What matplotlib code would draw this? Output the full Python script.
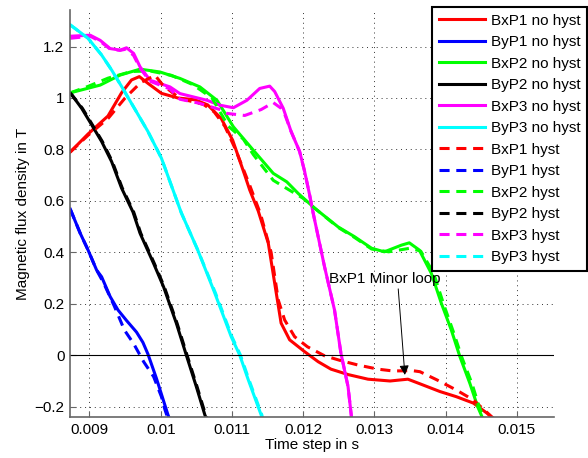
import matplotlib
matplotlib.use('Agg')
import matplotlib.pyplot as plt
from matplotlib.ticker import FuncFormatter

plt.rcParams['font.family'] = ['Liberation Sans', 'DejaVu Sans']
plt.rcParams['font.size'] = 11

# values (time in s, flux density in T)
t_bxp1 = [0.00873, 0.00898, 0.00926, 0.00945, 0.00959, 0.00970, 0.00982, 0.01001, 0.01024, 0.01048,
          0.01066, 0.01085, 0.01101, 0.01118, 0.01125, 0.01137, 0.01151, 0.01160, 0.01169, 0.01181,
          0.01202, 0.01221, 0.01239, 0.01263, 0.01291, 0.01322, 0.01347, 0.01364, 0.01392, 0.01415,
          0.01439, 0.01458, 0.01466]
b_bxp1 = [0.79, 0.86, 0.93, 1.02, 1.07, 1.083, 1.057, 1.018, 1.0, 0.993,
          0.973, 0.92, 0.836, 0.70, 0.642, 0.56, 0.436, 0.28, 0.125, 0.06,
          0.014, -0.025, -0.054, -0.075, -0.093, -0.10, -0.093, -0.111, -0.141, -0.161,
          -0.186, -0.225, -0.245]

t_bxp1_h = [0.00873, 0.00898, 0.00926, 0.00950, 0.00972, 0.00992, 0.01003, 0.01027, 0.01060, 0.01075,
            0.01090, 0.01105, 0.01125, 0.01140, 0.01155, 0.01165, 0.01174, 0.01188, 0.01206, 0.01230,
            0.01253, 0.01277, 0.01305, 0.01326, 0.01354, 0.01364, 0.01388, 0.01415, 0.01439, 0.01467]
b_bxp1_h = [0.79, 0.855, 0.92, 1.0, 1.06, 1.088, 1.05, 0.998, 0.975, 0.946,
            0.89, 0.80, 0.66, 0.55, 0.40, 0.215, 0.137, 0.072, 0.033, -0.002,
            -0.021, -0.038, -0.054, -0.061, -0.060, -0.064, -0.096, -0.135, -0.174, -0.245]

t_byp1 = [0.00873, 0.00887, 0.00898, 0.00910, 0.00917, 0.00929, 0.00940, 0.00952, 0.00966, 0.00975,
          0.00982, 0.00994, 0.01010, 0.01012]
b_byp1 = [0.568, 0.474, 0.409, 0.331, 0.305, 0.228, 0.176, 0.135, 0.09, 0.05,
          0.005, -0.09, -0.23, -0.245]

t_byp1_h = [0.00873, 0.00887, 0.00898, 0.00910, 0.00920, 0.00935, 0.00949, 0.00962, 0.00976, 0.00990,
            0.01001, 0.01006, 0.01010]
b_byp1_h = [0.568, 0.474, 0.409, 0.331, 0.28, 0.19, 0.098, 0.045, -0.025, -0.083,
            -0.161, -0.212, -0.245]

t_bxp2 = [0.00873, 0.00915, 0.00943, 0.00971, 0.00999, 0.01027, 0.01055, 0.01079, 0.01102, 0.01130,
          0.01158, 0.01177, 0.01193, 0.01216, 0.01249, 0.01272, 0.01296, 0.01314, 0.01338, 0.01349,
          0.01363, 0.01380, 0.01394, 0.01408, 0.01420, 0.01434, 0.01445, 0.01452]
b_bxp2 = [1.02, 1.05, 1.089, 1.112, 1.101, 1.076, 1.043, 0.991, 0.888, 0.797,
          0.707, 0.674, 0.629, 0.572, 0.499, 0.461, 0.416, 0.402, 0.428, 0.437,
          0.409, 0.318, 0.202, 0.098, -0.005, -0.109, -0.20, -0.245]

t_bxp2_h = [0.00873, 0.00898, 0.00926, 0.00959, 0.00985, 0.01015, 0.01045, 0.01072, 0.01095, 0.01116,
            0.01130, 0.01158, 0.01180, 0.01200, 0.01216, 0.01249, 0.01272, 0.01296, 0.01320, 0.01350,
            0.01365, 0.01383, 0.01397, 0.01411, 0.01423, 0.01437, 0.01447, 0.01454]
b_bxp2_h = [1.02, 1.045, 1.077, 1.103, 1.105, 1.088, 1.052, 1.0, 0.89, 0.84,
            0.78, 0.68, 0.643, 0.61, 0.572, 0.497, 0.458, 0.413, 0.402, 0.416,
            0.405, 0.32, 0.2, 0.09, -0.01, -0.11, -0.2, -0.245]

t_byp2 = [0.00873, 0.00889, 0.00903, 0.00917, 0.00931, 0.00945, 0.00961, 0.00971, 0.00990, 0.01004,
          0.01022, 0.01036, 0.01050, 0.01062, 0.01064]
b_byp2 = [1.02, 0.96, 0.896, 0.831, 0.753, 0.65, 0.557, 0.474, 0.357, 0.266,
          0.124, 0.0, -0.122, -0.232, -0.245]

t_byp2_h = [0.00873, 0.00890, 0.00904, 0.00918, 0.00932, 0.00946, 0.00962, 0.00972, 0.00991, 0.01005,
            0.01023, 0.01037, 0.01051, 0.01063, 0.01065]
b_byp2_h = [1.02, 0.96, 0.896, 0.831, 0.753, 0.65, 0.557, 0.474, 0.357, 0.266,
            0.124, 0.0, -0.122, -0.232, -0.245]

t_bxp3 = [0.00873, 0.00901, 0.00915, 0.00929, 0.00943, 0.00952, 0.00962, 0.00971, 0.00985, 0.00999,
          0.01013, 0.01027, 0.01046, 0.01065, 0.01083, 0.01102, 0.01121, 0.01139, 0.01153, 0.01160,
          0.01172, 0.01183, 0.01195, 0.01202, 0.01209, 0.01214, 0.01230, 0.01244, 0.01253, 0.01263,
          0.01268]
b_bxp3 = [1.24, 1.244, 1.224, 1.192, 1.186, 1.195, 1.173, 1.121, 1.069, 1.056,
          1.043, 1.017, 1.004, 0.991, 0.972, 0.962, 0.991, 1.037, 1.046, 1.025,
          0.96, 0.87, 0.792, 0.715, 0.624, 0.553, 0.344, 0.176, 0.008, -0.122,
          -0.245]

t_bxp3_h = [0.00873, 0.00901, 0.00915, 0.00929, 0.00943, 0.00952, 0.00962, 0.00971, 0.00985, 0.00999,
            0.01013, 0.01027, 0.01055, 0.01083, 0.01093, 0.01118, 0.01141, 0.01158, 0.01169, 0.01175,
            0.01183, 0.01195, 0.01202, 0.01209, 0.01214, 0.01230, 0.01244, 0.01253, 0.01263, 0.01268]
b_bxp3_h = [1.232, 1.24, 1.22, 1.19, 1.185, 1.19, 1.165, 1.115, 1.065, 1.05,
            1.035, 0.995, 0.979, 0.955, 0.94, 0.932, 0.955, 0.982, 0.96, 0.93,
            0.87, 0.792, 0.715, 0.624, 0.553, 0.344, 0.176, 0.008, -0.122, -0.245]

t_byp3 = [0.00873, 0.00898, 0.00917, 0.00931, 0.00945, 0.00963, 0.00982, 0.01001, 0.01029, 0.01052,
          0.01076, 0.01099, 0.01111, 0.01123, 0.01141, 0.01142]
b_byp3 = [1.284, 1.232, 1.167, 1.109, 1.045, 0.96, 0.87, 0.766, 0.553, 0.409,
          0.241, 0.072, 0.0, -0.096, -0.232, -0.245]

t_byp3_h = [0.00873, 0.00898, 0.00917, 0.00931, 0.00945, 0.00963, 0.00982, 0.01001, 0.01029, 0.01052,
            0.01077, 0.01100, 0.01112, 0.01124, 0.01142, 0.01143]
b_byp3_h = [1.284, 1.232, 1.167, 1.109, 1.045, 0.96, 0.87, 0.766, 0.553, 0.409,
            0.241, 0.072, 0.0, -0.096, -0.232, -0.245]

fig = plt.figure(figsize=(5.88, 4.58), dpi=100)
ax = fig.add_axes([0.119, 0.0895, 0.823, 0.889])

lw = 2.2
ax.plot(t_bxp1, b_bxp1, color='#ff0000', lw=lw, label='BxP1 no hyst')
ax.plot(t_byp1, b_byp1, color='#0000ff', lw=lw, label='ByP1 no hyst')
ax.plot(t_bxp2, b_bxp2, color='#00ff00', lw=lw, label='BxP2 no hyst')
ax.plot(t_byp2, b_byp2, color='#000000', lw=lw, label='ByP2 no hyst')
ax.plot(t_bxp3, b_bxp3, color='#ff00ff', lw=lw, label='BxP3 no hyst')
ax.plot(t_byp3, b_byp3, color='#00ffff', lw=lw, label='ByP3 no hyst')
dash = (0, (3.3, 2.2))
ax.plot(t_bxp1_h, b_bxp1_h, color='#ff0000', lw=lw, ls=dash, label='BxP1 hyst')
ax.plot(t_byp1_h, b_byp1_h, color='#0000ff', lw=lw, ls=dash, label='ByP1 hyst')
ax.plot(t_bxp2_h, b_bxp2_h, color='#00ff00', lw=lw, ls=dash, label='BxP2 hyst')
ax.plot(t_byp2_h, b_byp2_h, color='#000000', lw=lw, ls=dash, label='ByP2 hyst')
ax.plot(t_bxp3_h, b_bxp3_h, color='#ff00ff', lw=lw, ls=dash, label='BxP3 hyst')
ax.plot(t_byp3_h, b_byp3_h, color='#00ffff', lw=lw, ls=dash, label='ByP3 hyst')

ax.axhline(0, color='black', lw=0.8)

ax.set_xlim(0.008726, 0.01552)
ax.set_ylim(-0.24, 1.3425)
ax.set_xticks([0.009, 0.010, 0.011, 0.012, 0.013, 0.014, 0.015])
ax.set_yticks([-0.2, 0, 0.2, 0.4, 0.6, 0.8, 1.0, 1.2])
ax.xaxis.set_major_formatter(FuncFormatter(lambda v, p: ('%.3f' % v).rstrip('0').rstrip('.')))
ax.yaxis.set_major_formatter(FuncFormatter(lambda v, p: ('%.1f' % v).rstrip('0').rstrip('.').replace('-', '\u2212') if abs(v) > 1e-9 else '0'))
ax.grid(True, ls=(0, (1, 4)), color='#333333', lw=0.7)
ax.tick_params(direction='in', length=4, color='#666666', labelsize=11, pad=4)
for s in ['top', 'right']:
    ax.spines[s].set_visible(False)
for s in ['left', 'bottom']:
    ax.spines[s].set_color('#666666')
    ax.spines[s].set_linewidth(1.2)

ax.set_xlabel('Time step in s', labelpad=1)
ax.set_ylabel('Magnetic flux density in T', labelpad=3)

ax.annotate('BxP1 Minor loop', xy=(0.013428, -0.0765), xytext=(0.012361, 0.296),
            ha='left', va='center',
            arrowprops=dict(arrowstyle='-|>', color='black', lw=0.7, mutation_scale=14,
                            shrinkA=0, shrinkB=0, relpos=(0.62, 0.0)))

leg = ax.legend(loc='upper left', bbox_to_anchor=(0.735, 0.985), bbox_transform=fig.transFigure,
                borderaxespad=0, fancybox=False, framealpha=1, edgecolor='black',
                handlelength=3.0, handletextpad=0.4, labelspacing=0.49, borderpad=0.45)
leg.get_frame().set_linewidth(1.5)

fig.savefig('out.png', dpi=100)
